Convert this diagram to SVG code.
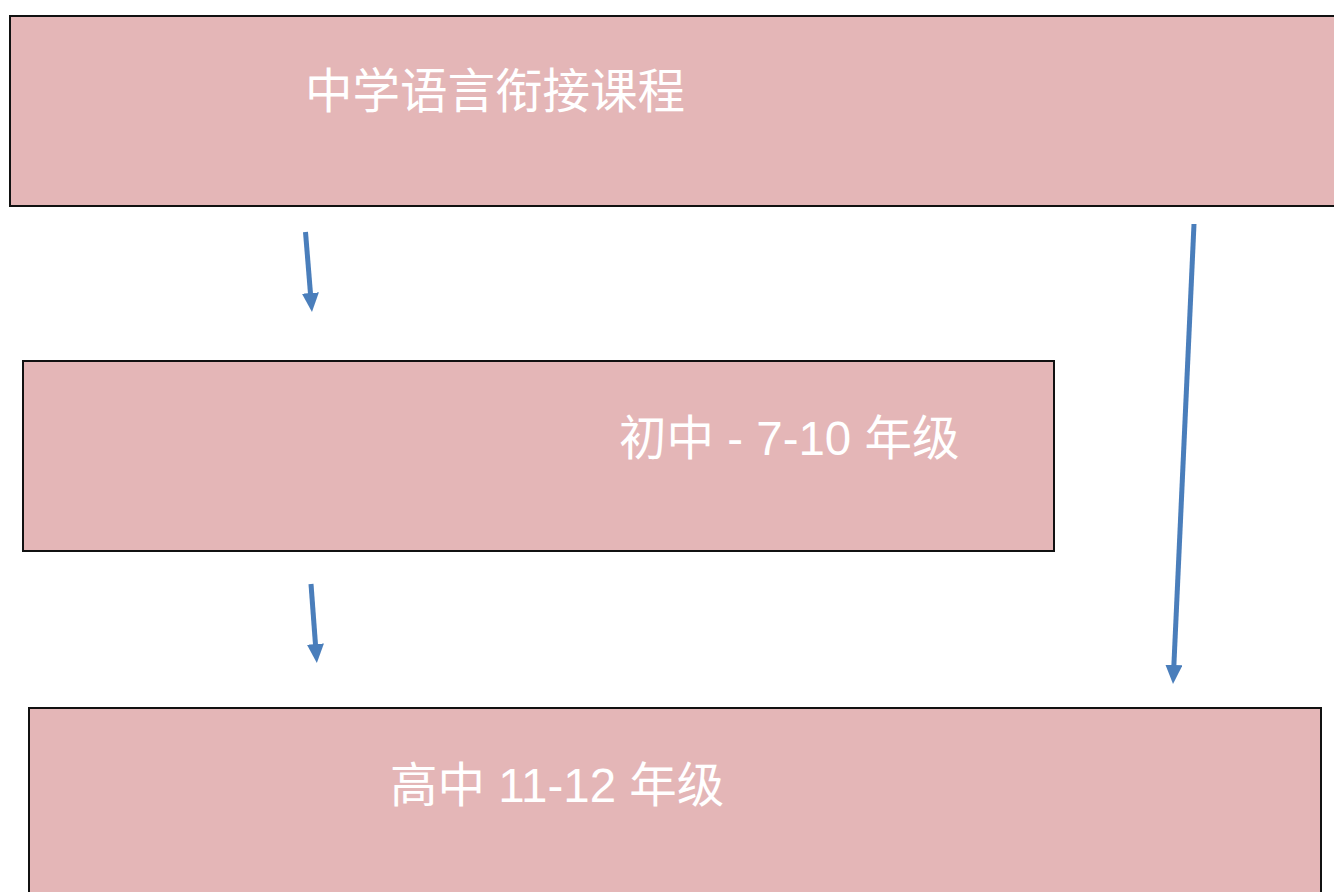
<svg xmlns="http://www.w3.org/2000/svg" width="1334" height="892" viewBox="0 0 1334 892">
<style>
.box{fill:#E4B6B7;stroke:#111;stroke-width:2}
.lbl{fill:#ffffff;font-family:"Liberation Sans","Noto Sans CJK SC",sans-serif;font-size:47.5px}
.conn{stroke:#4A7EBB;stroke-width:5;fill:none;marker-end:url(#ah)}
</style>
<defs>
<marker id="ah" markerUnits="userSpaceOnUse" markerWidth="20" markerHeight="18" refX="2" refY="8.5" orient="auto">
<path d="M0,0 L19,8.5 L0,17 z" fill="#4A7EBB"/>
</marker>
</defs>
<rect width="1334" height="892" fill="#ffffff"/>
<g id="node-top">
<rect class="box" x="10" y="16" width="1340" height="190"/>
<text class="lbl" x="305" y="108">中学语言衔接课程</text>
</g>
<g id="node-junior">
<rect class="box" x="23" y="361" width="1031" height="190"/>
<text class="lbl" x="619" y="455">初中 - 7-10 年级</text>
</g>
<g id="node-senior">
<rect class="box" x="29" y="708" width="1292" height="200"/>
<text class="lbl" x="390" y="802">高中 11-12 年级</text>
</g>
<g id="connectors">
<line class="conn" x1="305.5" y1="232" x2="310.6" y2="295"/>
<line class="conn" x1="311" y1="584" x2="315.6" y2="646"/>
<line class="conn" x1="1194" y1="224" x2="1173.8" y2="667"/>
</g>
</svg>
